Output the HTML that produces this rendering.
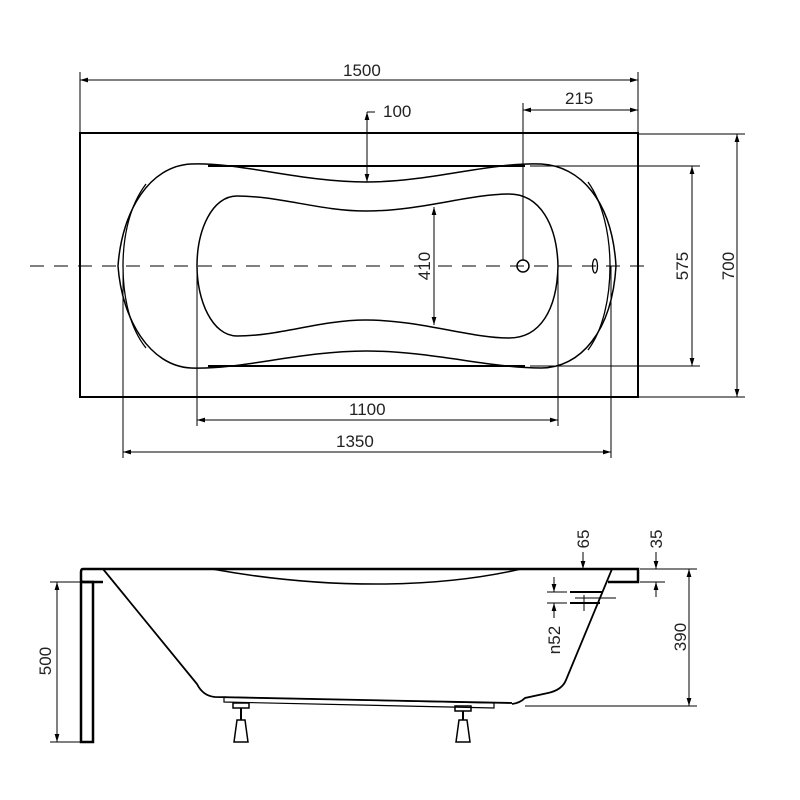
<!DOCTYPE html>
<html><head><meta charset="utf-8"><style>
html,body{margin:0;padding:0;background:#fff;}
svg{display:block;}
text{font-family:"Liberation Sans",sans-serif;font-size:17px;fill:#222;}
</style></head><body>
<svg width="800" height="800" viewBox="0 0 800 800" xmlns="http://www.w3.org/2000/svg">
<defs>
<marker id="a" viewBox="0 0 10 6" refX="10" refY="3" markerWidth="8" markerHeight="5" orient="auto-start-reverse" markerUnits="userSpaceOnUse"><path d="M0,0 L10,3 L0,6 z" fill="#000"/></marker>
</defs>
<g fill="none" stroke="#000">
<!-- top view -->
<rect x="80" y="133" width="558" height="264" stroke-width="2"/>
<line x1="530" y1="166" x2="700" y2="166" stroke-width="1"/>
<line x1="208" y1="166" x2="525" y2="166" stroke-width="2"/>
<line x1="530" y1="366" x2="700" y2="366" stroke-width="1"/>
<line x1="208" y1="366" x2="525" y2="366" stroke-width="2"/>
<line x1="30" y1="266" x2="645" y2="266" stroke-dasharray="14,10" stroke-width="1"/>
<!-- outer bath shape -->
<path d="M191,164 C240,162 300,182 366,182 C430,182 490,162 541,164 C580,166 612,200 616,266 C612,332 580,368 541,368 C490,368 430,351 366,351 C300,351 240,370 191,368 C150,366 122,320 118,266 C122,210 150,166 191,164 Z" stroke-width="1.5"/>
<path d="M146,184 C130,205 123,235 123,266 C123,298 130,328 146,348" stroke-width="1.3"/>
<path d="M588,182 C603,203 610,235 610,266 C610,298 603,330 588,350" stroke-width="1.3"/>
<!-- inner basin -->
<path d="M237,196 C280,196 320,211 366,211 C420,211 470,194 509,194 C540,194 557,225 558,266 C557,310 540,338 509,338 C470,338 420,320 366,320 C320,320 280,336 237,336 C212,336 197,300 197,266 C197,230 212,196 237,196 Z" stroke-width="1.5"/>
<circle cx="523" cy="266" r="6" stroke-width="1.5"/>
<ellipse cx="595" cy="266" rx="2.5" ry="7" stroke-width="1.3"/>
<!-- dims top -->
<line x1="80" y1="72" x2="80" y2="133"/>
<line x1="638" y1="72" x2="638" y2="133"/>
<line x1="80" y1="80" x2="638" y2="80" marker-start="url(#a)" marker-end="url(#a)"/>
<line x1="523" y1="103" x2="523" y2="260"/>
<line x1="523" y1="110" x2="638" y2="110" marker-start="url(#a)" marker-end="url(#a)"/>
<line x1="367" y1="112" x2="375" y2="112"/>
<line x1="367" y1="112" x2="367" y2="182" marker-start="url(#a)" marker-end="url(#a)"/>
<line x1="434" y1="207" x2="434" y2="325" marker-start="url(#a)" marker-end="url(#a)"/>
<!-- dims right -->
<line x1="638" y1="134" x2="745" y2="134"/>
<line x1="638" y1="397" x2="745" y2="397"/>
<line x1="692" y1="166" x2="692" y2="366" marker-start="url(#a)" marker-end="url(#a)"/>
<line x1="737" y1="134" x2="737" y2="397" marker-start="url(#a)" marker-end="url(#a)"/>
<!-- dims bottom -->
<line x1="123" y1="266" x2="123" y2="458"/>
<line x1="197" y1="266" x2="197" y2="426"/>
<line x1="558" y1="266" x2="558" y2="426"/>
<line x1="611" y1="266" x2="611" y2="458"/>
<line x1="197" y1="420" x2="558" y2="420" marker-start="url(#a)" marker-end="url(#a)"/>
<line x1="123" y1="452" x2="611" y2="452" marker-start="url(#a)" marker-end="url(#a)"/>
<!-- side view -->
<path d="M83,569 L638,569 L638,582 L608,582" stroke-width="2.5"/>
<path d="M83,569 Q81,569 81,572 L81,580 Q81,582 84,582 L103,582" stroke-width="2.5"/>
<rect x="81" y="582" width="12" height="160" stroke-width="2.5"/>
<path d="M103,569 L197,684 Q203,696 215,697 L512,703" stroke-width="1.8"/>
<path d="M612,569 L566,680 Q562,690 548,693 L525,698 Q520,703 512,704" stroke-width="1.8"/>
<path d="M212,569 Q300,585 386,584 Q460,583 521,569" stroke-width="1.5"/>
<path d="M224,697 L494,703 L494,708 L224,702 Z" stroke-width="1.2"/>
<!-- legs -->
<rect x="233" y="703" width="16" height="5" stroke-width="1.5"/>
<line x1="241" y1="708" x2="241" y2="720" stroke-width="2"/>
<path d="M237,720 L245,720 L248,742 L234,742 Z" stroke-width="1.5" fill="#fff"/>
<rect x="455" y="706" width="16" height="5" stroke-width="1.5"/>
<line x1="463" y1="711" x2="463" y2="720" stroke-width="2"/>
<path d="M459,720 L467,720 L470,742 L456,742 Z" stroke-width="1.5" fill="#fff"/>
<!-- 500 -->
<line x1="50" y1="582" x2="80" y2="582"/>
<line x1="50" y1="742" x2="80" y2="742"/>
<line x1="57" y1="582" x2="57" y2="742" marker-start="url(#a)" marker-end="url(#a)"/>
<!-- 390 -->
<line x1="640" y1="569" x2="697" y2="569"/>
<line x1="525" y1="706" x2="697" y2="706"/>
<line x1="689" y1="569" x2="689" y2="706" marker-start="url(#a)" marker-end="url(#a)"/>
<!-- 65 -->
<line x1="583" y1="552" x2="583" y2="569" marker-end="url(#a)"/>
<!-- 35 -->
<line x1="640" y1="582" x2="665" y2="582"/>
<line x1="656" y1="552" x2="656" y2="569" marker-end="url(#a)"/>
<line x1="656" y1="597" x2="656" y2="582" marker-end="url(#a)"/>
<!-- n52 -->
<line x1="570" y1="592" x2="602" y2="592" stroke-width="2"/>
<line x1="570" y1="603" x2="600" y2="603" stroke-width="2"/>
<line x1="575" y1="598" x2="616" y2="598"/>
<line x1="547" y1="592" x2="567" y2="592"/>
<line x1="547" y1="603" x2="567" y2="603"/>
<line x1="554" y1="577" x2="554" y2="592" marker-end="url(#a)"/>
<line x1="554" y1="618" x2="554" y2="603" marker-end="url(#a)"/>
<line x1="584" y1="595" x2="584" y2="611"/>
</g>
<text x="343" y="76">1500</text>
<text x="565" y="104">215</text>
<text x="383" y="117">100</text>
<text x="349" y="415">1100</text>
<text x="336" y="447">1350</text>
<text transform="translate(430,266) rotate(-90)" text-anchor="middle">410</text>
<text transform="translate(688,266) rotate(-90)" text-anchor="middle">575</text>
<text transform="translate(734,266) rotate(-90)" text-anchor="middle">700</text>
<text transform="translate(51,661) rotate(-90)" text-anchor="middle">500</text>
<text transform="translate(686,637) rotate(-90)" text-anchor="middle">390</text>
<text transform="translate(589,539) rotate(-90)" text-anchor="middle">65</text>
<text transform="translate(662,539) rotate(-90)" text-anchor="middle">35</text>
<text transform="translate(560,640) rotate(-90)" text-anchor="middle">n52</text>
</svg>
</body></html>
